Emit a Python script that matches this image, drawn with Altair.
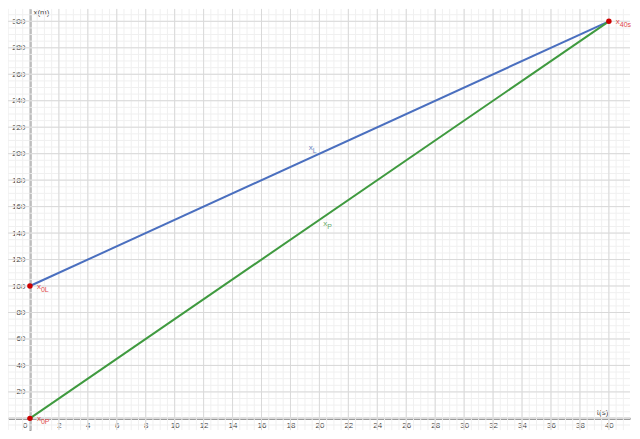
import altair as alt
import pandas as pd

# ---- data ----
series = ["xL", "xL", "xP", "xP"]
t_line = [0, 40, 0, 40]
x_line = [100, 300, 0, 300]

pt_t = [0, 0, 40]
pt_x = [100, 0, 300]
pt_sub = ["0L", "0P", "40s"]

lab_t = [19.4, 20.4]
lab_x = [204, 146.5]
lab_sub = ["L", "P"]
lab_series = ["xL", "xP"]

x_ticks = list(range(0, 41, 2))
y_ticks = list(range(20, 301, 20))
x_major = list(range(0, 41, 2))
x_minor = [v / 2 for v in range(-3, 83)]
y_major = list(range(0, 301, 20))
y_minor = list(range(-5, 310, 5))

# ---- layout ----
W, H = 624, 423
XMIN, XMAX = -1.515, 41.46
YMIN, YMAX = -9.04, 309.56
x_off = -(0 - XMIN) / (XMAX - XMIN) * W
y_off = -(0 - YMIN) / (YMAX - YMIN) * H

FONT = "Liberation Sans"

xs = alt.Scale(domain=[XMIN, XMAX], nice=False, zero=False)
ys = alt.Scale(domain=[YMIN, YMAX], nice=False, zero=False)

xaxis = alt.Axis(
    values=x_ticks, grid=False, ticks=False, offset=y_off,
    domainColor="#7a7a7a", domainWidth=2,
    labelFontSize=8, labelColor="#444444", labelFont=FONT, labelPadding=3,
    labelAlign={"condition": {"test": "datum.value === 0", "value": "right"}, "value": "center"},
    labelOffset={"condition": {"test": "datum.value === 0", "value": -3}, "value": 0},
    title="t(s)", titleFont=FONT, titleFontSize=8, titleFontWeight="normal",
    titleColor="#444444", titleX=596, titleY=-2, titleBaseline="bottom",
    titleAlign="center", labelFlush=False, labelOverlap=False,
)
yaxis = alt.Axis(
    values=y_ticks, grid=False, ticks=False, offset=x_off,
    domainColor="#7a7a7a", domainWidth=2,
    labelFontSize=8, labelColor="#444444", labelFont=FONT, labelPadding=5,
    title="x(m)", titleFont=FONT, titleFontSize=8, titleFontWeight="normal",
    titleColor="#444444", titleAngle=0, titleX=3, titleY=0, titleBaseline="top",
    titleAlign="left", labelFlush=False, labelOverlap=False,
)

def X(field):
    return alt.X(field, scale=xs, axis=xaxis)

def Y(field):
    return alt.Y(field, scale=ys, axis=yaxis)

line_df = pd.DataFrame({"s": series, "t": t_line, "x": x_line})
pt_df = pd.DataFrame({"t": pt_t, "x": pt_x, "main": ["x"] * 3, "sub": pt_sub})
lab_df = pd.DataFrame({"t": lab_t, "x": lab_x, "main": ["x"] * 2, "sub": lab_sub, "s": lab_series})

def vrules(vals, color):
    return alt.Chart(pd.DataFrame({"v": vals})).mark_rule(color=color, strokeWidth=1, clip=True).encode(
        x=X("v:Q"))

def hrules(vals, color):
    return alt.Chart(pd.DataFrame({"v": vals})).mark_rule(color=color, strokeWidth=1, clip=True).encode(
        y=Y("v:Q"))

lines = alt.Chart(line_df).mark_line(strokeWidth=2, clip=True).encode(
    x=X("t:Q"),
    y=Y("x:Q"),
    color=alt.Color("s:N", scale=alt.Scale(domain=["xL", "xP"], range=["#4a6fbf", "#3f9a3f"]), legend=None),
    detail="s:N",
)

points = alt.Chart(pt_df).mark_point(filled=True, shape="circle", size=30, color="#cc0000", opacity=1).encode(
    x=X("t:Q"), y=Y("x:Q"))

pt_main = alt.Chart(pt_df).mark_text(align="left", baseline="middle", dx=7, dy=1, fontSize=8,
                                      font=FONT, color="#e04848").encode(
    x=X("t:Q"), y=Y("x:Q"), text="main:N")
pt_subs = alt.Chart(pt_df).mark_text(align="left", baseline="middle", dx=11, dy=4, fontSize=7,
                                      font=FONT, color="#e04848").encode(
    x=X("t:Q"), y=Y("x:Q"), text="sub:N")

lab_color = alt.Color("s:N", scale=alt.Scale(domain=["xL", "xP"], range=["#6a86c4", "#6aaa6a"]), legend=None)
lab_main = alt.Chart(lab_df).mark_text(align="center", baseline="middle", fontSize=8, font=FONT).encode(
    x=X("t:Q"), y=Y("x:Q"), text="main:N", color=lab_color)
lab_subs = alt.Chart(lab_df).mark_text(align="left", baseline="middle", dx=2, dy=3, fontSize=7, font=FONT).encode(
    x=X("t:Q"), y=Y("x:Q"), text="sub:N", color=lab_color)

chart = alt.layer(
    vrules(x_minor, "#f0f0f0"), hrules(y_minor, "#f0f0f0"),
    vrules(x_major, "#d9d9d9"), hrules(y_major, "#d9d9d9"),
    lines, points, pt_main, pt_subs, lab_main, lab_subs,
).resolve_scale(
    color="independent"
).properties(
    width=W, height=H, padding=0, background="white"
).configure_view(stroke=None)

chart.save("out.html", embed_options={"renderer": "svg", "actions": False})
